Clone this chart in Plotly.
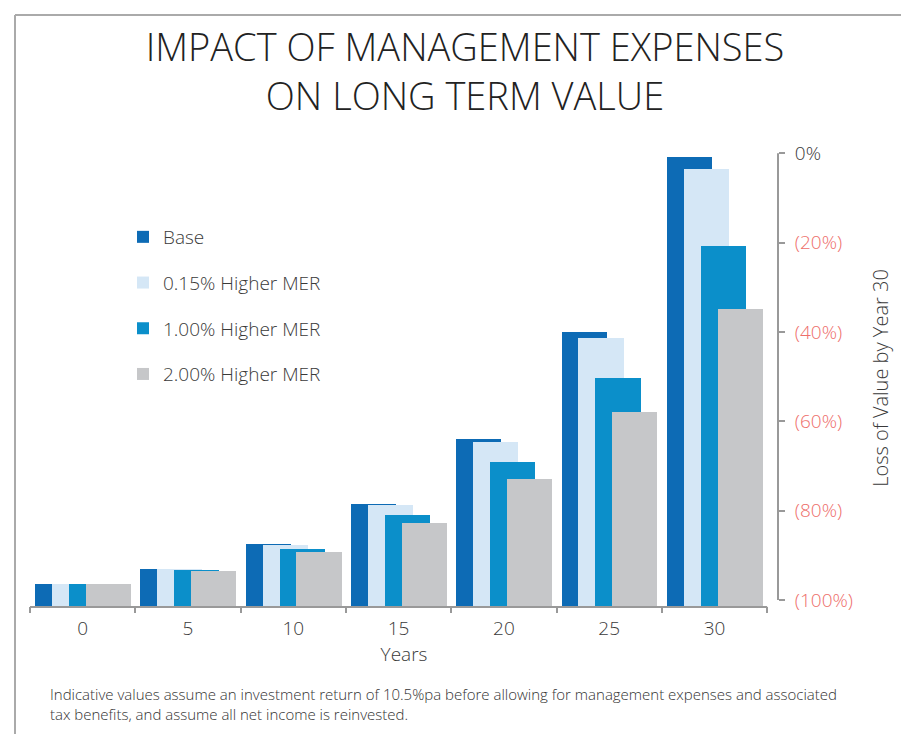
import plotly.graph_objects as go

years = ["0", "5", "10", "15", "20", "25", "30"]
series_names = ["Base", "0.15% Higher MER", "1.00% Higher MER", "2.00% Higher MER"]
base = [1.00, 1.65, 2.75, 4.53, 7.44, 12.20, 20.01]
mer_015 = [1.00, 1.64, 2.70, 4.49, 7.30, 11.92, 19.47]
mer_100 = [1.00, 1.60, 2.54, 4.05, 6.41, 10.16, 16.05]
mer_200 = [1.00, 1.55, 2.39, 3.68, 5.64, 8.65, 13.23]
loss_ticks = [0, -20, -40, -60, -80, -100]
loss_labels = ["0%", "(20%)", "(40%)", "(60%)", "(80%)", "(100%)"]

colors = ["#0D6BB5", "#D5E7F6", "#0B8FCA", "#C6C7C9"]
values = [base, mer_015, mer_100, mer_200]
offsets = [-0.4525, -0.2915, -0.1305, 0.0305]
bar_w = 0.428

# page body has an 8px margin; work in screen coords and shift
O = 8
W, H = 909 - O, 734 - O
ml, mr, mt, mb = 30 - O, 909 - 778, 150 - O, 734 - 606
pw = W - ml - mr
ph = H - mt - mb

def px_x(x):
    return (x - O - ml) / pw

def px_y(y):
    return (H - mb - (y - O)) / ph

FONT = "Open Sans"
TXT = "#3a3a3a"

fig = go.Figure()
for name, vals, col, off in zip(series_names, values, colors, offsets):
    fig.add_trace(go.Bar(
        x=years, y=vals, name=name, marker=dict(color=col, line=dict(width=0)),
        offset=off, width=bar_w, legendgroup=name,
    ))
# dummy trace to activate right axis
fig.add_trace(go.Scatter(x=[years[0]], y=[0], yaxis="y2", mode="markers",
                         marker=dict(opacity=0), showlegend=False, hoverinfo="skip"))

tick_text = []
for v, t in zip(loss_ticks, loss_labels):
    c = TXT if v == 0 else "#EE6E6A"
    tick_text.append(f"<span style='color:{c}'>{t}</span>")

fig.update_layout(
    width=W, height=H,
    margin=dict(l=ml, r=mr, t=mt, b=mb),
    paper_bgcolor="white", plot_bgcolor="white",
    font=dict(family=FONT, size=19, color=TXT, weight=300),
    barmode="overlay",
    bargap=0,
    showlegend=True,
    legend=dict(x=px_x(123), y=px_y(218), xanchor="left", yanchor="top",
                traceorder="grouped", tracegroupgap=18,
                font=dict(size=19, color=TXT), bgcolor="rgba(0,0,0,0)"),
    title=dict(text="IMPACT OF MANAGEMENT EXPENSES<br>ON LONG TERM VALUE",
               x=(465 - O) / W, xanchor="center", y=1 - 53 / H, yanchor="top",
               font=dict(size=38, color="#222222", family=FONT, weight=300)),
    xaxis=dict(type="category", range=[-0.5, 6.603], showline=False,
               ticks="outside", tickson="boundaries", ticklen=6, tickwidth=2,
               tickcolor="#999999", showgrid=False, zeroline=False,
               ticklabelstandoff=9,
               tickfont=dict(size=19, color=TXT),
               title=dict(text="Years", standoff=0, font=dict(size=19, color=TXT))),
    yaxis=dict(range=[0, 20.31], visible=False, showgrid=False),
    yaxis2=dict(overlaying="y", side="right", anchor="x",
                range=[-101.34, 0.74], showline=False, showgrid=False, zeroline=False,
                tickvals=loss_ticks, ticktext=tick_text, ticks="outside",
                ticklen=6, tickwidth=2, tickcolor="#999999",
                ticklabelstandoff=6,
                tickfont=dict(size=19),
                title=dict(text="Loss of Value by Year 30", standoff=21,
                           font=dict(size=20, color=TXT))),
    shapes=[
        dict(type="line", xref="x", yref="paper", x0=-0.5, x1=6.5,
             y0=px_y(607), y1=px_y(607), line=dict(color="#999999", width=2)),
        dict(type="line", xref="paper", yref="y2", x0=1, x1=1, y0=-100, y1=0,
             line=dict(color="#999999", width=2)),
        dict(type="line", xref="paper", yref="paper", x0=px_x(15), x1=px_x(920),
             y0=px_y(15), y1=px_y(15), line=dict(color="#aaaaaa", width=2)),
        dict(type="line", xref="paper", yref="paper", x0=px_x(15), x1=px_x(15),
             y0=px_y(15), y1=px_y(740), line=dict(color="#aaaaaa", width=2)),
    ],
    annotations=[
        dict(text="Indicative values assume an investment return of 10.5%pa before allowing for management expenses and associated<br>tax benefits, and assume all net income is reinvested.",
             xref="paper", yref="paper", x=px_x(48), y=px_y(682), xanchor="left", yanchor="top",
             align="left", showarrow=False, font=dict(size=15, color="#333333")),
    ],
)

fig.write_html("out.html")
